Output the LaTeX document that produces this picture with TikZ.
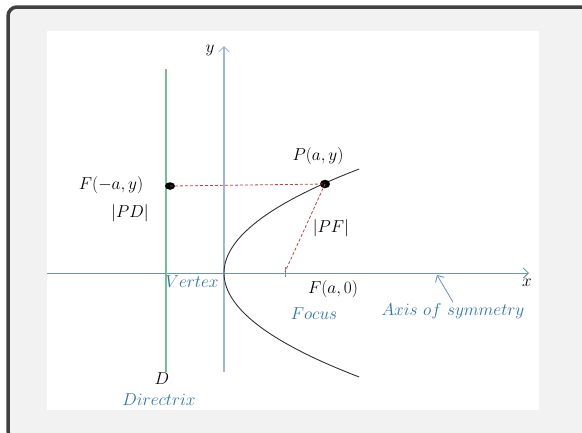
\documentclass[tikz,border=0pt]{standalone}
\usetikzlibrary{arrows.meta,shapes.geometric}
\definecolor{frame}{HTML}{404040}
\definecolor{bggray}{HTML}{F2F2F2}
\definecolor{labblue}{HTML}{2E74B5}
\definecolor{xax}{HTML}{6A92C6}
\definecolor{yax}{HTML}{9DB7DD}
\definecolor{dirgreen}{HTML}{72BF90}
\definecolor{dred}{HTML}{C0404A}
\begin{document}
\begin{tikzpicture}[x=1pt,y=-1pt,
  lab/.style={inner sep=0pt,font=\fontsize{18.5}{22}\selectfont},
  bluelab/.style={lab,text=labblue},
  dot/.style={ellipse,fill=black,inner sep=0pt,minimum width=10pt,minimum height=7.5pt},
  reddash/.style={dred,dashed,dash pattern=on 3pt off 2pt,line width=0.8pt},
  tip/.style={-{Straight Barb[length=5pt,width=10pt,line width=0.9pt]}}
]
\useasboundingbox (0,0) rectangle (582,432);
\draw[frame,line width=3.5pt,fill=bggray,rounded corners=9pt] (8,7) rectangle (590,440);
\fill[white] (47,31) rectangle (539,410);
% axes
\coordinate (xs) at (47,273);
\coordinate (xe) at (529,273);
\coordinate (ys) at (224,372);
\coordinate (ye) at (224,46);
\draw[xax,line width=0.9pt,tip] (xs) -- (xe);
\draw[yax,line width=1.1pt,tip] (ys) -- (ye);
% directrix
\coordinate (dtop) at (166,69);
\coordinate (dbot) at (166,372);
\draw[dirgreen,line width=1.1pt] (dtop) -- (dbot);
% parabola
\draw[black!80,line width=0.9pt] plot[domain=-104:104,samples=80,smooth] ({224+0.0125*\x*\x},{273+\x});
% focus tick
\coordinate (ft) at (285,272);
\draw[xax,line width=0.8pt] (285,267) -- (285,277);
% points
\node[dot] (D1) at (170,186) {};
\node[dot,minimum width=10pt,minimum height=8.5pt] (P) at (325,184) {};
\draw[reddash] (D1.center) -- (P.center);
\draw[reddash] (P.center) -- (ft);
% labels
\node[lab] (ylab) at (210,50) {$y$};
\node[lab] (xlab) at (527,283) {$x$};
\node[lab] (Plab) at (318,156) {$P(a,y)$};
\node[lab] (Fm) at (111,185) {$F(-a,y)$};
\node[lab] (PD) at (130,213) {$|PD|$};
\node[lab] (PF) at (331,228) {$|PF|$};
\node[lab] (Fa) at (333,289) {$F(a,0)$};
\node[bluelab] (foc) at (314,314) {$Focus$};
\node[bluelab] (aos) at (453,311) {$Axis\ of\ symmetry$};
\node[bluelab] (vtx) at (192,282) {$Vertex$};
\node[lab] (Dl) at (162,379) {$D$};
\node[bluelab] (dirx) at (159,400) {$Directrix$};
\coordinate (aostip) at (437,275);
\draw[xax,line width=0.8pt,tip] (aos.north) ++(0,-1) -- (aostip);
\end{tikzpicture}
\end{document}
